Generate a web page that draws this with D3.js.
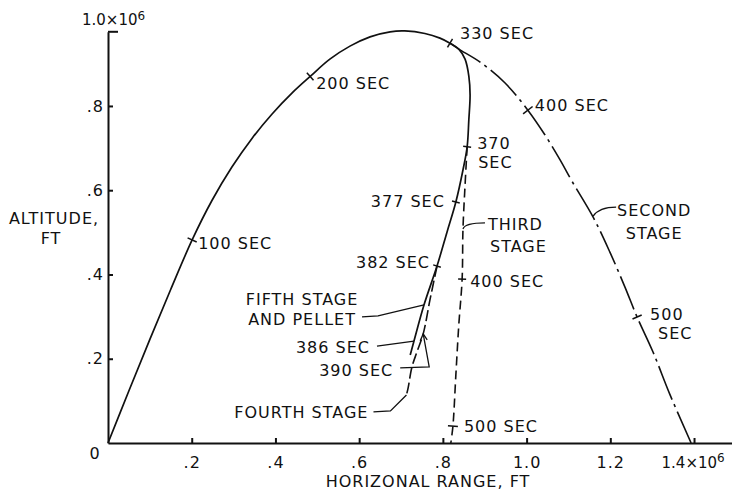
<!DOCTYPE html>
<html>
<head>
<meta charset="utf-8">
<script src="https://cdn.jsdelivr.net/npm/d3@7"></script>
<style>
  html, body { margin: 0; padding: 0; background: #fff; }
  svg text { font-family: "DejaVu Sans", sans-serif; font-size: 16px; letter-spacing: 1px; fill: #111; }
  .axis path, .axis line { stroke: #111; stroke-width: 2; }
</style>
</head>
<body>
<svg id="chart" width="732" height="493"></svg>
<script>
// Trajectories as [horizontal range, altitude], both in millions of feet.
// Boost climb to burnout, then the fifth stage and pellet descending.
const boostPath = [
  [0, 0], [0.050, 0.124], [0.100, 0.246], [0.150, 0.365], [0.201, 0.482],
  [0.248, 0.575], [0.296, 0.655], [0.344, 0.723], [0.392, 0.781], [0.440, 0.831],
  [0.483, 0.870], [0.530, 0.911], [0.578, 0.942], [0.626, 0.964], [0.674, 0.976],
  [0.709, 0.978], [0.757, 0.972], [0.793, 0.961], [0.817, 0.949],
  [0.838, 0.935], [0.853, 0.911], [0.862, 0.871], [0.865, 0.826], [0.862, 0.767],
  [0.858, 0.703], [0.848, 0.648], [0.831, 0.572], [0.810, 0.501], [0.786, 0.420],
  [0.755, 0.328], [0.731, 0.242], [0.722, 0.209]
];
const secondStage = [
  [0.817, 0.949], [0.838, 0.935], [0.889, 0.904], [0.948, 0.855], [1.003, 0.790],
  [1.044, 0.731], [1.080, 0.672], [1.108, 0.622], [1.159, 0.536], [1.199, 0.453],
  [1.235, 0.370], [1.264, 0.299], [1.302, 0.216], [1.342, 0.116], [1.393, 0.0]
];
const thirdStage = [
  [0.858, 0.703], [0.853, 0.612], [0.848, 0.508], [0.846, 0.389], [0.838, 0.280],
  [0.831, 0.161], [0.824, 0.040], [0.819, 0.0]
];
const fourthStage = [
  [0.786, 0.420], [0.769, 0.339], [0.753, 0.259], [0.738, 0.216], [0.726, 0.180],
  [0.717, 0.131], [0.713, 0.114]
];

// Flight-time marks: [seconds, range, altitude]
const boostMarks = [
  [100, 0.201, 0.482], [200, 0.483, 0.870], [330, 0.817, 0.949],
  [370, 0.858, 0.703], [377, 0.831, 0.572], [382, 0.786, 0.420], [386, 0.731, 0.242]
];
const secondMarks = [[400, 1.003, 0.790], [500, 1.264, 0.299]];
const thirdMarks = [[400, 0.846, 0.389], [500, 0.824, 0.040]];
const fourthMarks = [[390, 0.753, 0.259]];

const xTicks = [0.2, 0.4, 0.6, 0.8, 1.0, 1.2, 1.4];
const xTickLabels = [".2", ".4", ".6", ".8", "1.0", "1.2", "1.4"];
const yTicks = [0.2, 0.4, 0.6, 0.8];
const yTickLabels = [".2", ".4", ".6", ".8"];

const svg = d3.select("#chart");
const ink = "#111";

const x = d3.scaleLinear().domain([0, 1.4907]).range([108, 732]);
const y = d3.scaleLinear().domain([0, 0.976]).range([443, 31.8]);

// ---- axes ----
const xAxis = svg.append("g").attr("class", "axis")
  .attr("transform", `translate(0,${y(0)})`)
  .call(d3.axisBottom(x).tickValues(xTicks).tickSizeInner(-5).tickSizeOuter(0)
    .tickPadding(13.5).tickFormat((d, i) => xTickLabels[i]));
const yAxis = svg.append("g").attr("class", "axis")
  .attr("transform", `translate(${x(0)},0)`)
  .call(d3.axisLeft(y).tickValues(yTicks).tickSizeInner(-5).tickSizeOuter(0)
    .tickPadding(4).tickFormat((d, i) => yTickLabels[i]));
[xAxis, yAxis].forEach(g => g.attr("font-size", null).attr("font-family", null));

// right-hand cap at the top of the altitude axis
svg.append("line").attr("x1", x(0)).attr("x2", x(0) + 10)
  .attr("y1", y(0.976)).attr("y2", y(0.976))
  .attr("stroke", ink).attr("stroke-width", 2);

// scale factor on the last range label
const lastTick = xAxis.selectAll(".tick text").filter(d => d === 1.4);
lastTick.text(null).attr("text-anchor", "start").attr("x", -33).style("letter-spacing", "0px");
lastTick.append("tspan").text("1.4×10").style("font-size", "15px");
lastTick.append("tspan").text("6").attr("dy", "-0.45em").style("font-size", "12px");

// scale factor above the altitude axis
const topLabel = svg.append("text").attr("x", 82).attr("y", 25).style("letter-spacing", "0px");
topLabel.append("tspan").text("1.0×10").style("font-size", "15px");
topLabel.append("tspan").text("6").attr("dy", "-0.45em").style("font-size", "12px");

svg.append("text").attr("x", 95).attr("y", 459).attr("text-anchor", "middle").text("0");

svg.append("text").attr("x", 428).attr("y", 487).attr("text-anchor", "middle")
  .text("HORIZONAL RANGE, FT");
svg.append("text").attr("x", 54).attr("y", 224).attr("text-anchor", "middle").text("ALTITUDE,");
svg.append("text").attr("x", 51).attr("y", 244).attr("text-anchor", "middle").text("FT");

// ---- trajectories ----
const line = d3.line().x(d => x(d[0])).y(d => y(d[1])).curve(d3.curveCatmullRom.alpha(0.5));

function drawPath(data, dash, width) {
  svg.append("path").datum(data).attr("d", line)
    .attr("fill", "none").attr("stroke", ink).attr("stroke-width", width)
    .attr("stroke-dasharray", dash);
}
drawPath(secondStage, "36,5,3,5", 1.6);
drawPath(thirdStage, "9,5", 1.6);
drawPath(fourthStage, "11,4", 1.6);
drawPath(boostPath, null, 1.7);

// ---- time ticks and labels ----
function tangentAt(path, px, py) {
  const pts = path.map(d => [x(d[0]), y(d[1])]);
  let best = 0, bd = Infinity;
  pts.forEach((p, i) => { const dd = (p[0] - px) ** 2 + (p[1] - py) ** 2; if (dd < bd) { bd = dd; best = i; } });
  const a = pts[Math.max(0, best - 1)], b = pts[Math.min(pts.length - 1, best + 1)];
  const len = Math.hypot(b[0] - a[0], b[1] - a[1]);
  return [(b[0] - a[0]) / len, (b[1] - a[1]) / len];
}

// label offsets from each mark, in pixels
const placement = {
  "boost-100": { dx: 6, dy: 9, tick: 5 },
  "boost-200": { dx: 6, dy: 13, tick: 5 },
  "boost-330": { dx: 10, dy: -4, tick: 5 },
  "boost-370": { dx: 10, dy: 2, tick: 4, lines: ["370", "SEC"], lineStep: [0, 1] },
  "boost-377": { dx: -11, dy: 5, tick: 4, anchor: "end" },
  "boost-382": { dx: -7, dy: 2, tick: 4, anchor: "end" },
  "second-400": { dx: 7, dy: 1, tick: 6 },
  "second-500": { dx: 13, dy: 3, tick: 5, lines: ["500", "SEC"], lineStep: [0, 8] },
  "third-400": { dx: 8, dy: 8, tick: 4 },
  "third-500": { dx: 11, dy: 6, tick: 5 }
};

function drawMarks(marks, path, key) {
  marks.forEach(([t, rx, ry]) => {
    const p = placement[`${key}-${t}`];
    if (!p) return;
    const px = x(rx), py = y(ry);
    const [tx, ty] = tangentAt(path, px, py);
    const nx = -ty, ny = tx;
    svg.append("line")
      .attr("x1", px - nx * p.tick).attr("y1", py - ny * p.tick)
      .attr("x2", px + nx * p.tick).attr("y2", py + ny * p.tick)
      .attr("stroke", ink).attr("stroke-width", 1.5);
    const lines = p.lines || [`${t} SEC`];
    lines.forEach((s, i) => {
      svg.append("text")
        .attr("x", px + p.dx + (p.lineStep ? p.lineStep[i] : 0))
        .attr("y", py + p.dy + i * 19)
        .attr("text-anchor", p.anchor || "start")
        .text(s);
    });
  });
}
drawMarks(boostMarks, boostPath, "boost");
drawMarks(secondMarks, secondStage, "second");
drawMarks(thirdMarks, thirdStage, "third");

// ---- leader-line annotations ----
function leader(ax, ay, offsets) {
  const pts = offsets.map(([dx, dy]) => [ax + dx, ay + dy]);
  svg.append("path").attr("d", d3.line().curve(d3.curveLinear)(pts))
    .attr("fill", "none").attr("stroke", ink).attr("stroke-width", 1.3);
}
function label(lx, ly, lines, anchor, step = 20) {
  lines.forEach((s, i) => svg.append("text").attr("x", lx).attr("y", ly + i * step)
    .attr("text-anchor", anchor).text(s));
}

// 386 SEC on the fifth-stage path
{
  const m = boostMarks.find(d => d[0] === 386);
  const px = x(m[1]), py = y(m[2]);
  leader(px, py, [[-37, 5], [0, 0]]);
  label(px - 44, py + 12, ["386 SEC"], "end");
}
// 390 SEC on the fourth-stage path, with arrowhead
{
  const m = fourthMarks[0];
  const px = x(m[1]), py = y(m[2]);
  leader(px, py, [[-23, 34], [6, 33], [0, 0]]);
  leader(px, py, [[-3, 7], [0, 0], [4, 6]]);
  label(px - 30, py + 42, ["390 SEC"], "end");
}
// stage names
{
  const a = secondStage[8];
  const px = x(a[0]), py = y(a[1]);
  svg.append("path").attr("d", `M${px},${py - 1} Q${px + 6},${py - 10} ${px + 23},${py - 10}`)
    .attr("fill", "none").attr("stroke", ink).attr("stroke-width", 1.3);
  label(px + 61, py - 1, ["SECOND", "STAGE"], "middle", 23);
}
{
  const a = thirdStage[2];
  const px = x(a[0]), py = y(a[1]);
  svg.append("path").attr("d", `M${px},${py} Q${px + 2},${py - 6} ${px + 22},${py - 6}`)
    .attr("fill", "none").attr("stroke", ink).attr("stroke-width", 1.3);
  label(px + 25, py + 1, ["THIRD"], "start");
  label(px + 27, py + 23, ["STAGE"], "start");
}
{
  const a = boostPath[29];
  const px = x(a[0]), py = y(a[1]);
  leader(px, py, [[-62, 12], [-46, 11], [0, 0]]);
  label(px - 122, py, ["FIFTH STAGE", "AND PELLET"], "middle");
}
{
  const a = fourthStage[fourthStage.length - 1];
  const px = x(a[0]), py = y(a[1]);
  leader(px, py, [[-33, 17], [-16, 16], [0, 0]]);
  label(px - 38, py + 23, ["FOURTH STAGE"], "end");
}
</script>
</body>
</html>
